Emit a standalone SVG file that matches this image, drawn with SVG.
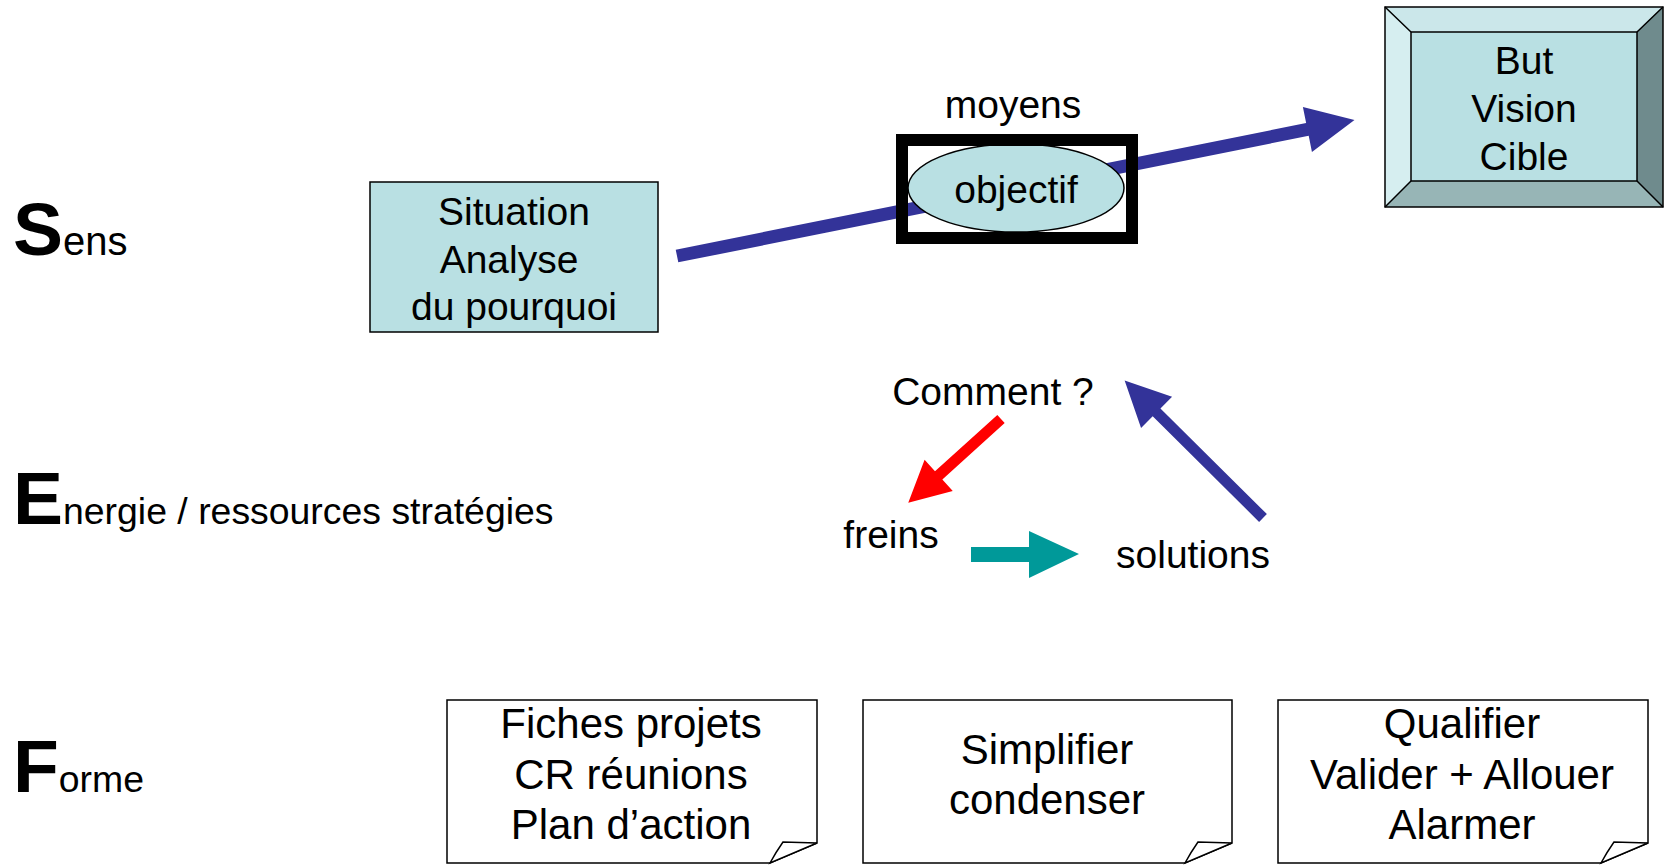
<svg xmlns="http://www.w3.org/2000/svg" width="1664" height="865" viewBox="0 0 1664 865">
<style>
text{font-family:"Liberation Sans",Arial,sans-serif;fill:#000}
.t{font-size:39px;text-anchor:middle}
.b{font-size:42px;text-anchor:middle}
.big{font-size:75px;font-weight:bold}
.lab{font-size:37.4px;font-weight:normal}
.cyan{fill:#b9e0e3;stroke:#000;stroke-width:1.5}
.note{fill:#fff;stroke:#000;stroke-width:1.5}
</style>
<rect width="1664" height="865" fill="#fff"/>
<g id="labels">
<text x="13" y="255" class="big">S<tspan class="lab" style="font-size:40px">ens</tspan></text>
<text x="13" y="524" class="big">E<tspan class="lab">nergie / ressources stratégies</tspan></text>
<text x="13" y="792" class="big">F<tspan class="lab">orme</tspan></text>
</g>
<g id="situation">
<rect x="370" y="182" width="288" height="150" class="cyan"/>
<text class="t" x="514" y="225">Situation</text>
<text class="t" x="509" y="273">Analyse</text>
<text class="t" x="514" y="320">du pourquoi</text>
</g>
<g id="but">
<rect x="1385" y="7" width="278" height="200" fill="#b9e0e3"/>
<polygon points="1385,7 1663,7 1637,32 1411,32" fill="#cbe7ea"/>
<polygon points="1385,7 1411,32 1411,181 1385,207" fill="#d6eef0"/>
<polygon points="1663,7 1663,207 1637,181 1637,32" fill="#6f8b8d"/>
<polygon points="1385,207 1411,181 1637,181 1663,207" fill="#97b5b6"/>
<g fill="none" stroke="#000" stroke-width="1.5">
<rect x="1385" y="7" width="278" height="200"/>
<rect x="1411" y="32" width="226" height="149"/>
<path d="M1385,7 L1411,32 M1663,7 L1637,32 M1385,207 L1411,181 M1663,207 L1637,181"/>
</g>
<text class="t" x="1524" y="74">But</text>
<text class="t" x="1524" y="122">Vision</text>
<text class="t" x="1524" y="170">Cible</text>
</g>
<g id="connectors">
<polygon transform="translate(677,256) rotate(-11.35)" points="0,-6.5 643,-6.5 643,-23 691,0 643,23 643,6.5 0,6.5" fill="#333399"/>
<polygon transform="translate(1001,419) rotate(137.9)" points="0,-5.5 84,-5.5 84,-21 125,0 84,21 84,5.5 0,5.5" fill="#ff0000"/>
<polygon transform="translate(1263,518) rotate(-135.2)" points="0,-5.5 150,-5.5 150,-22 195,0 150,22 150,5.5 0,5.5" fill="#333399"/>
<polygon points="971,547 1029,547 1029,531 1079,554 1029,578 1029,562 971,562" fill="#009999"/>
</g>
<g id="objectif">
<ellipse cx="1016" cy="188" rx="108" ry="44" class="cyan"/>
<rect x="902" y="140" width="230" height="98" fill="none" stroke="#000" stroke-width="12"/>
<text class="t" x="1016" y="203">objectif</text>
<text class="t" x="1013" y="118">moyens</text>
</g>
<g id="energie">
<text class="t" x="993" y="405">Comment ?</text>
<text class="t" x="891" y="548">freins</text>
<text class="t" x="1193" y="568">solutions</text>
</g>
<g id="note1">
<path d="M447,700 H817 V843 L770,863 H447 Z" class="note"/>
<path d="M817,843 L783,842 Q776,852 770,863 Z" class="note"/>
<text class="b" x="631" y="738">Fiches projets</text>
<text class="b" x="631" y="789">CR réunions</text>
<text class="b" x="631" y="839">Plan d’action</text>
</g>
<g id="note2">
<path d="M863,700 H1232 V843 L1185,863 H863 Z" class="note"/>
<path d="M1232,843 L1198,842 Q1191,852 1185,863 Z" class="note"/>
<text class="b" x="1047" y="764">Simplifier</text>
<text class="b" x="1047" y="814">condenser</text>
</g>
<g id="note3">
<path d="M1278,700 H1648 V843 L1601,863 H1278 Z" class="note"/>
<path d="M1648,843 L1614,842 Q1607,852 1601,863 Z" class="note"/>
<text class="b" x="1462" y="738">Qualifier</text>
<text class="b" x="1462" y="789">Valider + Allouer</text>
<text class="b" x="1462" y="839">Alarmer</text>
</g>
</svg>
